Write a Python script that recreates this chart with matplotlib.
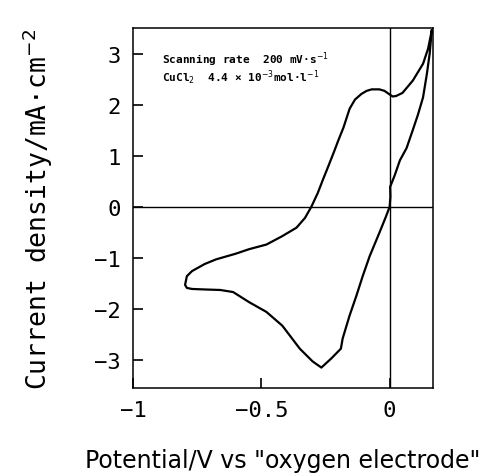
import matplotlib
matplotlib.use("Agg")
import matplotlib.pyplot as plt

potential = [0.164, 0.15, 0.13, 0.09, 0.05, 0.025, 0.012, 0.0, -0.02, -0.04, -0.07, -0.09,
             -0.11, -0.135, -0.156, -0.18, -0.20, -0.215, -0.24, -0.26, -0.28, -0.305, -0.33,
             -0.363, -0.42, -0.48, -0.547, -0.60, -0.676, -0.72, -0.77, -0.79, -0.797, -0.79,
             -0.77, -0.72, -0.66, -0.61, -0.547, -0.48, -0.418, -0.35, -0.30, -0.266, -0.227,
             -0.19, -0.183, -0.156, -0.13, -0.105, -0.078, -0.04, -0.015, 0.0, 0.003, 0.002,
             0.02, 0.04, 0.066, 0.09, 0.11, 0.13, 0.145, 0.156, 0.164]
current = [3.45, 3.1, 2.8, 2.47, 2.23, 2.17, 2.16, 2.2, 2.27, 2.30, 2.30, 2.27,
           2.21, 2.1, 1.92, 1.55, 1.3, 1.1, 0.78, 0.53, 0.27, 0.0, -0.22,
           -0.41, -0.58, -0.74, -0.83, -0.92, -1.03, -1.12, -1.26, -1.36, -1.53, -1.59,
           -1.61, -1.62, -1.63, -1.67, -1.87, -2.06, -2.33, -2.78, -3.03, -3.15, -2.97,
           -2.78, -2.58, -2.13, -1.75, -1.36, -0.97, -0.51, -0.2, 0.0, 0.2, 0.39,
           0.62, 0.91, 1.15, 1.5, 1.8, 2.14, 2.6, 3.0, 3.45]

xticks = [-1, -0.5, 0]
xticklabels = ["−1", "−0.5", "0"]
yticks = [-3, -2, -1, 0, 1, 2, 3]
yticklabels = ["−3", "−2", "−1", "0", "1", "2", "3"]

fig = plt.figure(figsize=(4.98, 4.77), dpi=100)
ax = fig.add_axes([0.267, 0.1845, 0.602, 0.7545])
ax.plot(potential, current, color="black", lw=1.6)
ax.axhline(0, color="black", lw=1.0)
ax.axvline(0, color="black", lw=1.0)
ax.set_xlim(-1, 0.168)
ax.set_ylim(-3.55, 3.5)
for s in ax.spines.values():
    s.set_linewidth(1.1)

mono = "DejaVu Sans Mono"
ax.set_xticks(xticks)
ax.set_xticklabels(xticklabels, family=mono, fontsize=16)
ax.set_yticks(yticks)
ax.set_yticklabels(yticklabels, family=mono, fontsize=16)
ax.tick_params(direction="in", length=7, width=1.2, pad=9)

ax.set_ylabel("Current density/mA·cm$^{-2}$", family=mono, fontsize=19, labelpad=28)
ax.set_xlabel('Potential/V vs "oxygen electrode"', family="DejaVu Sans", fontsize=17, labelpad=20)

ax.text(0.097, 0.915, "Scanning rate  200 mV·s$^{-1}$", transform=ax.transAxes,
        family=mono, fontsize=8, fontweight="bold", va="center")
ax.text(0.097, 0.865, "CuCl$_2$  4.4 × 10$^{-3}$mol·l$^{-1}$", transform=ax.transAxes,
        family=mono, fontsize=8, fontweight="bold", va="center")

fig.savefig("out.png", dpi=100)
